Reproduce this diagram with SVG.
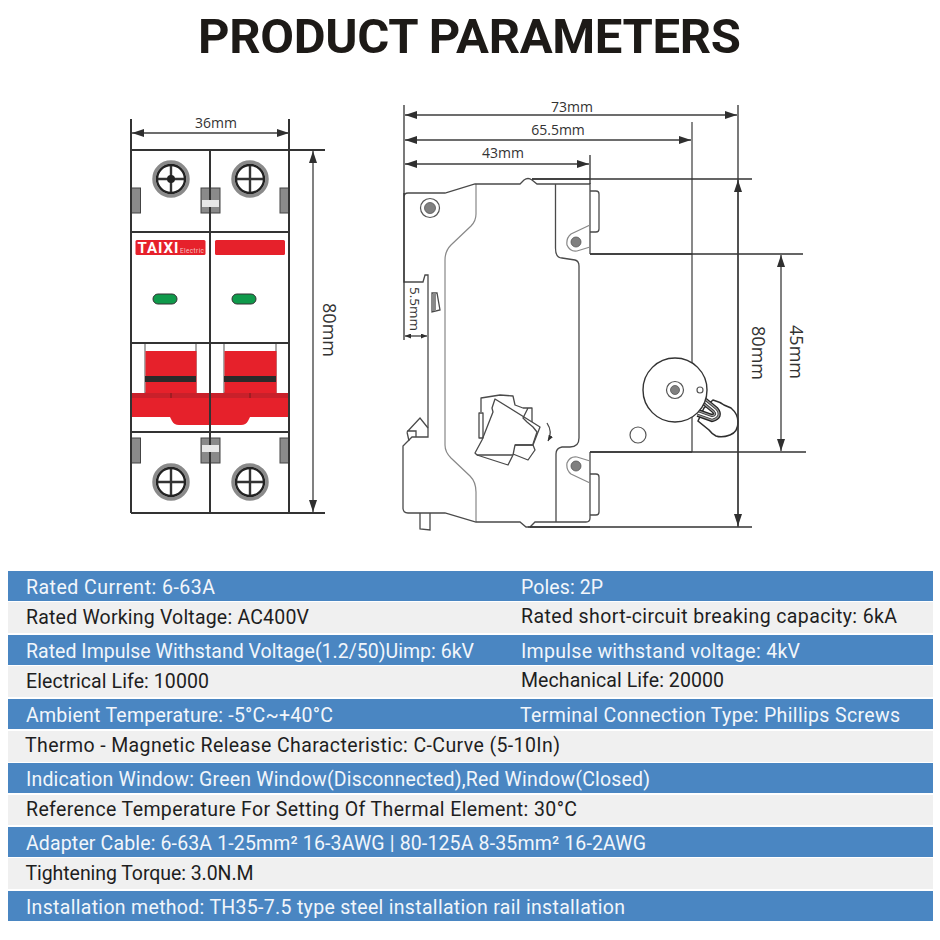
<svg xmlns="http://www.w3.org/2000/svg" width="940" height="940" viewBox="0 0 940 940">
<style>
.title{font:700 49px Roboto,"Liberation Sans",sans-serif;fill:#1d1a17}
.t{font:400 19.5px Roboto,"Liberation Sans",sans-serif}
.w{fill:#f2f6fb}.k{fill:#1e1e1e}
.blue{fill:#4a86c2}.grey{fill:#f0f0f0}
.d{font:400 14px "Open Sans","Liberation Sans",sans-serif;fill:#333}
.dv{font:400 18px "Open Sans","Liberation Sans",sans-serif;fill:#333}
.dim{stroke:#3c3c3c;stroke-width:1.3;fill:none}
.ext{stroke:#333;stroke-width:1.3;fill:none}
.arr{marker-start:url(#a);marker-end:url(#a)}
.th{stroke:#333;stroke-width:2;fill:none}
.o{stroke:#4a4a4a;stroke-width:1.3;fill:none}
.o2{stroke:#888;stroke-width:1.2;fill:none}
.tab{fill:#8a8a8a;stroke:#444;stroke-width:1}
.wb{fill:#e8e8e8}
.red{fill:#e6212b}
.dred{fill:#c9202a}
.pill{fill:#0f9a4b;stroke:#333;stroke-width:1}
.sc1{fill:#fff;stroke:#8a8a8a;stroke-width:3.5}
.sc2{fill:#fff;stroke:#222;stroke-width:2.4}
.cr{stroke:#333;stroke-width:2.4;fill:none}
.gd{fill:#808080;stroke:#555;stroke-width:.8}
</style>
<defs>
<marker id="a" viewBox="0 0 12 8" refX="12" refY="4" markerUnits="userSpaceOnUse" markerWidth="12" markerHeight="8" orient="auto-start-reverse"><path d="M0 0L12 4L0 8Z" fill="#2f2f2f"/></marker>
<marker id="s" viewBox="0 0 6 5" refX="6" refY="2.5" markerUnits="userSpaceOnUse" markerWidth="6" markerHeight="5" orient="auto-start-reverse"><path d="M0 0L6 2.5L0 5Z" fill="#2f2f2f"/></marker>
<g id="screw"><circle r="17" class="sc1"/><circle r="14" class="sc2"/></g>
<g id="tabs"><rect x="131.5" width="9" height="25" class="tab"/><rect x="201" width="19" height="25" class="tab"/><rect x="280" width="9" height="25" class="tab"/></g>
</defs>
<rect width="940" height="940" fill="#fff"/>
<text id="title" class="title" x="198" y="53" textLength="543">PRODUCT PARAMETERS</text>

<g id="front-view">
<rect x="145" y="343" width="51" height="50" fill="#fff" stroke="#555" stroke-width="1"/>
<rect x="224" y="343" width="52" height="50" fill="#fff" stroke="#555" stroke-width="1"/>
<rect x="145.500" y="351" width="51" height="43" class="red"/>
<rect x="224.500" y="351" width="52" height="43" class="red"/>
<rect x="145" y="376" width="51" height="6" fill="#2a2a2a"/>
<rect x="224" y="376" width="52" height="6" fill="#2a2a2a"/>
<rect x="131" y="393" width="158" height="5" class="dred"/>
<path d="M131 398H289V417H250L248 421Q246 425 241 425H179Q174 425 172 421L170 417H131Z" class="red"/>
<path d="M171 393V398M210 393V398M250 393V398" stroke="#7a1a1a" stroke-width="1"/>
<use href="#tabs" y="188"/>
<use href="#tabs" y="438"/>
<path class="th" d="M131 119V513M210 150V513M289 119V513M131 232H289M131 343H289M131 432H289"/>
<rect x="202" y="200" width="17" height="7" class="wb"/>
<rect x="202" y="445" width="17" height="7" class="wb"/>
<use href="#screw" x="171" y="179"/><use href="#screw" x="250" y="179"/>
<use href="#screw" x="171" y="482"/><use href="#screw" x="250" y="482"/>
<path class="cr" d="M158 179H184M171 166V192M237 179H263M250 166V192M158 482H184M171 469V495M237 482H263M250 469V495"/>
<circle cx="171" cy="179" r="4" fill="#222"/>
<rect x="135.500" y="240" width="70" height="15" rx="1.500" class="red"/>
<rect x="215" y="240" width="70" height="15" rx="1.500" class="red"/>
<text x="137.500" y="253" font-family="Roboto,'Liberation Sans',sans-serif" font-weight="700" font-size="15" fill="#fff" textLength="41">TAIXI</text>
<text x="180" y="253" font-family="Roboto,'Liberation Sans',sans-serif" font-size="6.500" fill="#f4c0c0" textLength="24">Electric</text>
<rect x="153" y="294" width="24" height="10" rx="5" class="pill"/>
<rect x="232" y="294" width="24" height="10" rx="5" class="pill"/>
</g>

<g id="side-view">
<path class="o2" d="M476 184V214Q476 221 471 226L451 245Q445 251 445 260V445Q445 452 451 458L470 476Q476 482 476 492V522"/>
<path class="o" d="M404 197Q404 193 408 193H445L475 184H520L524 180Q528 177 532 180L537 184H590V254M404 193V282H423L425 275H428V437H412L403 446V508Q403 513 408 513H445L476 522H520L526 527H530L535 522H586Q590 522 590 518V452"/>
<path class="o" d="M555.500 184V248Q555.500 258 562 258L575 260Q579 261 579 266V438Q579 447 570 447H562Q556 448 556 454V522"/>
<path class="o" d="M532 179H590M590 254H692M590 452H692M528 527H590"/>
<path class="o" d="M590 191H596Q599 191 599 194V229Q599 232 596 232H590M590 474H596Q599 474 599 477V512Q599 515 596 515H590"/>
<path class="o2" d="M590 225L571 234Q566 238 567 245Q570 252 577 251L590 247M590 483L571 474Q566 470 567 463Q570 456 577 457L590 461" />
<circle cx="576" cy="242" r="5" class="gd"/><circle cx="576" cy="466" r="5" class="gd"/>
<circle cx="430" cy="208" r="9.500" fill="#fff" stroke="#555" stroke-width="1.200"/><circle cx="430" cy="208" r="5.500" class="gd"/>
<path class="o" d="M432 293H437L440 310L432 312Z"/><rect x="433" y="293" width="3" height="18" fill="#888"/>
<path class="o" d="M407 432L420 418L428 428M407 432L409 441M407 431L416 431L416 437"/>
<path class="o" d="M420 513V529L430 530V513"/>
<g id="mechanism">
<path class="o" stroke-linejoin="round" d="M481 412V398L500 395L513 396L515 405L523 408H532V422M528 408L523 418L527 422L533 427L537 432L533 444"/>
<path class="o" stroke-linejoin="round" d="M479 413H483V438H479Z"/>
<path class="o" stroke-linejoin="round" d="M495 399L540 427L533 445L515 445L513 455L508 465L477 455L475 453L482 440L493 412L492 408Z"/>
<path class="o" stroke-linejoin="round" d="M515 445H533L535 450L528 460L513 454M477 455L513 455"/>
<path class="o" d="M547 423Q553 432 548 441" marker-end="url(#s)"/>
</g>
<circle cx="638" cy="435" r="8" fill="#fff" stroke="#555" stroke-width="1.200"/>
<path class="o" d="M692 122V452"/>
<g id="knob">
<path fill="#fff" stroke="#2f2f2f" stroke-width="1.500" d="M713 400Q720 402 724 405L731 408Q738 414 738 422Q738 432 730 435Q722 438 716 436Q712 434 709 430L698 421L704 408Z"/>
<path d="M704 401L715 410Q720 416 712 418L698 413" fill="none" stroke="#222" stroke-width="8"/>
<path d="M704 401L715 410Q720 416 712 418L698 413" fill="none" stroke="#999" stroke-width="5.500"/>
<path d="M704 401L715 410Q720 416 712 418L698 413" fill="none" stroke="#333" stroke-width="3"/>
<path d="M704 401L715 410Q720 416 712 418L698 413" fill="none" stroke="#fff" stroke-width="1.400"/>
</g>
<circle cx="675" cy="390" r="32" fill="#fff" stroke="#333" stroke-width="1.400"/>
<circle cx="675" cy="390" r="8.500" fill="#fff" stroke="#555" stroke-width="1.200"/><circle cx="675" cy="390" r="4.500" class="gd"/>
<circle cx="700" cy="390" r="3" fill="#fff" stroke="#555" stroke-width="1.200"/>
</g>

<g id="connectors">
<path class="th" d="M131 150H325M131 513H325"/>
<path class="dim arr" d="M132 133H289"/>
<path class="dim arr" d="M313 151V512"/>
<path class="ext" d="M404 105V340M738 105V527M590 155V184M532 179H752M590 254H803M590 452H806M530 527H752"/>
<path class="dim arr" d="M405 115H737"/>
<path class="dim arr" d="M405 140H691"/>
<path class="dim arr" d="M405 164H589"/>
<path class="dim arr" d="M738 180V526"/>
<path class="dim arr" d="M781 255V451"/>
<path class="dim" marker-start="url(#s)" marker-end="url(#s)" d="M405 336H427"/>
</g>
<g id="dim-labels">
<text class="d" x="216" y="128" text-anchor="middle">36mm</text>
<text class="d" x="572" y="112" text-anchor="middle">73mm</text>
<text class="d" x="558" y="135" text-anchor="middle">65.5mm</text>
<text class="d" x="503" y="158" text-anchor="middle">43mm</text>
<text class="dv" transform="translate(323 330) rotate(90)" text-anchor="middle">80mm</text>
<text class="dv" transform="translate(752 353) rotate(90)" text-anchor="middle">80mm</text>
<text class="dv" transform="translate(790 352) rotate(90)" text-anchor="middle">45mm</text>
<text class="d" style="font-size:13.500px" transform="translate(410 309) rotate(90)" text-anchor="middle">5.5mm</text>
</g>

<g id="table">
<rect class="blue" x="8" y="571" width="925" height="30"/>
<rect class="grey" x="8" y="602" width="925" height="31"/>
<rect class="blue" x="8" y="635" width="925" height="30"/>
<rect class="grey" x="8" y="666" width="925" height="31"/>
<rect class="blue" x="8" y="699" width="925" height="30"/>
<rect class="grey" x="8" y="731" width="925" height="31"/>
<rect class="blue" x="8" y="763" width="925" height="30"/>
<rect class="grey" x="8" y="795" width="925" height="30"/>
<rect class="blue" x="8" y="827" width="925" height="30"/>
<rect class="grey" x="8" y="858" width="925" height="31"/>
<rect class="blue" x="8" y="891" width="925" height="30"/>
<g transform="translate(0 1)">
<text class="t w" x="26" y="593" textLength="189">Rated Current: 6-63A</text>
<text class="t w" x="521" y="593" textLength="82">Poles: 2P</text>
<text class="t k" x="26" y="623" textLength="283">Rated Working Voltage: AC400V</text>
<text class="t k" x="521" y="622" textLength="376">Rated short-circuit breaking capacity: 6kA</text>
<text class="t w" x="26" y="657" textLength="448">Rated Impulse Withstand Voltage(1.2/50)Uimp: 6kV</text>
<text class="t w" x="521" y="657" textLength="279">Impulse withstand voltage: 4kV</text>
<text class="t k" x="26" y="687" textLength="183">Electrical Life: 10000</text>
<text class="t k" x="521" y="686" textLength="203">Mechanical Life: 20000</text>
<text class="t w" x="26" y="721" textLength="307">Ambient Temperature: -5°C~+40°C</text>
<text class="t w" x="520" y="721" textLength="380">Terminal Connection Type: Phillips Screws</text>
<text class="t k" x="25" y="751" textLength="535">Thermo - Magnetic Release Characteristic: C-Curve (5-10In)</text>
<text class="t w" x="26" y="785" textLength="624">Indication Window: Green Window(Disconnected),Red Window(Closed)</text>
<text class="t k" x="26" y="815" textLength="551">Reference Temperature For Setting Of Thermal Element: 30°C</text>
<text class="t w" x="26" y="849" textLength="620">Adapter Cable: 6-63A 1-25mm² 16-3AWG | 80-125A 8-35mm² 16-2AWG</text>
<text class="t k" x="25.500" y="879" textLength="228">Tightening Torque: 3.0N.M</text>
<text class="t w" x="26" y="913" textLength="599">Installation method: TH35-7.5 type steel installation rail installation</text>
</g>
</g>
</svg>
